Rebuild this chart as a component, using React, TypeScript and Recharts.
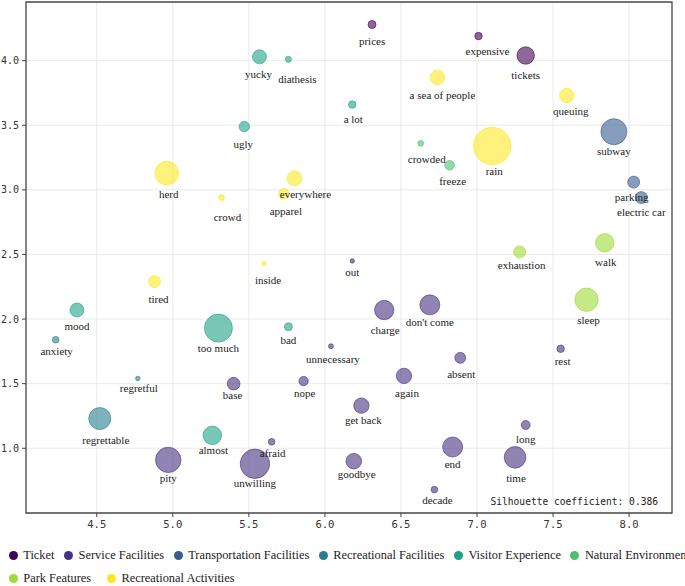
import { ScatterChart, Scatter, XAxis, YAxis, ZAxis, CartesianGrid, ReferenceArea } from 'recharts';

// ─── Data: [word, x, y, frequency] ─────────────────────────────────────────────
type Pt = [string, number, number, number];

const TICKET: Pt[] = [
  ['prices',    6.31, 4.28, 16],
  ['expensive', 7.01, 4.19, 14],
  ['tickets',   7.32, 4.04, 76],
];

const SERVICE: Pt[] = [
  ['out',         6.18, 2.45, 5],
  ['charge',      6.39, 2.07, 94],
  ["don't come",  6.69, 2.11, 100],
  ['unnecessary', 6.04, 1.79, 6],
  ['absent',      6.89, 1.70, 30],
  ['rest',        7.55, 1.77, 14],
  ['base',        5.40, 1.50, 40],
  ['nope',        5.86, 1.52, 22],
  ['again',       6.52, 1.56, 59],
  ['get back',    6.24, 1.33, 59],
  ['long',        7.32, 1.18, 20],
  ['afraid',      5.65, 1.05, 11],
  ['pity',        4.97, 0.91, 161],
  ['unwilling',   5.54, 0.88, 216],
  ['goodbye',     6.19, 0.90, 61],
  ['end',         6.84, 1.01, 100],
  ['time',        7.25, 0.93, 117],
  ['decade',      6.72, 0.68, 11],
];

const TRANSPORT: Pt[] = [
  ['subway',       7.90, 3.45, 169],
  ['parking',      8.03, 3.06, 36],
  ['electric car', 8.08, 2.94, 36],
];

const RECREATIONAL_FAC: Pt[] = [
  ['anxiety',     4.23, 1.84, 11],
  ['regretful',   4.77, 1.54, 5],
  ['regrettable', 4.52, 1.23, 121],
];

const VISITOR: Pt[] = [
  ['yucky',     5.57, 4.03, 49],
  ['diathesis', 5.76, 4.01, 9],
  ['a lot',     6.18, 3.66, 14],
  ['ugly',      5.47, 3.49, 27],
  ['mood',      4.37, 2.07, 49],
  ['too much',  5.30, 1.93, 196],
  ['bad',       5.76, 1.94, 16],
  ['almost',    5.26, 1.10, 86],
];

const NATURAL: Pt[] = [
  ['crowded', 6.63, 3.36, 8],
  ['freeze',  6.82, 3.19, 23],
];

const PARK: Pt[] = [
  ['exhaustion', 7.28, 2.52, 36],
  ['walk',       7.84, 2.59, 86],
  ['sleep',      7.72, 2.15, 137],
];

const ACTIVITIES: Pt[] = [
  ['herd',            4.96, 3.13, 140],
  ['crowd',           5.32, 2.94, 9],
  ['everywhere',      5.80, 3.09, 56],
  ['apparel',         5.73, 2.97, 28],
  ['a sea of people', 6.74, 3.87, 53],
  ['queuing',         7.59, 3.73, 52],
  ['rain',            7.10, 3.34, 350],
  ['tired',           4.88, 2.29, 36],
  ['inside',          5.60, 2.43, 5],
];

const CATEGORIES = [
  'Ticket', 'Service Facilities', 'Transportation Facilities', 'Recreational Facilities',
  'Visitor Experience', 'Natural Environment', 'Park Features', 'Recreational Activities',
];
const SERIES = [TICKET, SERVICE, TRANSPORT, RECREATIONAL_FAC, VISITOR, NATURAL, PARK, ACTIVITIES];

const X_TICKS = [4.5, 5.0, 5.5, 6.0, 6.5, 7.0, 7.5, 8.0];
const Y_TICKS = [1.0, 1.5, 2.0, 2.5, 3.0, 3.5, 4.0];
const SILHOUETTE = 0.386;

// ─── Styling ───────────────────────────────────────────────────────────────────
const COLORS = ['#440154', '#46327e', '#365c8d', '#277f8e', '#1fa187', '#4ac16d', '#a0da39', '#fde725'];
const X_DOMAIN: [number, number] = [4.035, 8.282];
const Y_DOMAIN: [number, number] = [0.499, 4.454];
const SERIF = "'Liberation Serif', 'Times New Roman', serif";
const MONO = "'DejaVu Sans Mono', monospace";

// label nudges [dx, dy] in px, mimicking the original text placement
const NUDGE: Record<string, [number, number]> = {
  prices: [0, 3], expensive: [9, 1], tickets: [0, 3], 'a sea of people': [5, 2], 'a lot': [1, 1],
  queuing: [4, 0], subway: [0, 1], crowded: [6, 2], freeze: [3, 1], rain: [2, 4], parking: [-2, 0],
  'electric car': [0, -1], yucky: [-1, 2], diathesis: [9, 6], ugly: [-1, 3], herd: [2, 3.5],
  crowd: [6, 6], everywhere: [11, 0], apparel: [2, 3], anxiety: [1, -2], tired: [4, 2],
  inside: [4, 3.5], 'too much': [0, 1], bad: [0, -1], unnecessary: [2, 0], regretful: [1, -4],
  base: [-1, -3.5], nope: [1, -2.4], regrettable: [6, 3.5], almost: [1, -2.3], afraid: [1, -2.4],
  out: [0, -2], charge: [1, 3], absent: [1, 1.6], rest: [2, -2], again: [3, 1], 'get back': [2, -1.6],
  time: [1, 3], goodbye: [3, -3], decade: [3, -3.4], sleep: [2, 2.4], exhaustion: [2, -2], walk: [1, 2.7],
};

const toRows = (pts: Pt[]) => pts.map(([word, x, y, freq]) => ({ word, x, y, freq }));

const WordLabel = (props: any) => {
  const { cx, cy, payload } = props;
  if (cx == null || cy == null || !payload) return null;
  const r = props.width ? props.width / 2 : Math.sqrt(payload.freq);
  const [dx, dy] = NUDGE[payload.word] ?? [0, 0];
  return (
    <text
      x={cx + dx}
      y={cy + 12 + 0.5 * r + dy}
      textAnchor="middle"
      dominantBaseline="central"
      fontSize={11}
      fontFamily={SERIF}
      fill="#222"
    >
      {payload.word}
    </text>
  );
};

function LegendRow({ items, gap, top }: { items: number[]; gap: number; top: number }) {
  return (
    <div style={{ position: 'absolute', left: 8.8, top, display: 'flex', alignItems: 'center', columnGap: gap, whiteSpace: 'nowrap' }}>
      {items.map(i => (
        <div key={i} style={{ display: 'flex', alignItems: 'center' }}>
          <span style={{ width: 9, height: 9, borderRadius: '50%', background: COLORS[i], marginRight: 5.5, display: 'inline-block' }} />
          <span style={{ fontFamily: SERIF, fontSize: 12.4, color: '#222', lineHeight: '14px' }}>{CATEGORIES[i]}</span>
        </div>
      ))}
    </div>
  );
}

export default function App() {
  const allRows = SERIES.flatMap(toRows);

  return (
    <div style={{ position: 'absolute', left: 0, top: 0, width: 685, height: 586, overflow: 'hidden', background: '#fff' }}>
      <ScatterChart width={685} height={540} margin={{ top: 2, right: 13, bottom: 0, left: 0 }}>
        <CartesianGrid stroke="#e4e4e4" strokeWidth={0.8} />
        <XAxis
          type="number" dataKey="x" domain={X_DOMAIN} ticks={X_TICKS} allowDataOverflow
          tickFormatter={(v: number) => v.toFixed(1)}
          height={27} tickSize={4} tickMargin={4}
          axisLine={false} tickLine={{ stroke: '#444' }}
          tick={{ fontSize: 10.5, fontFamily: MONO, fill: '#333' }}
        />
        <YAxis
          type="number" dataKey="y" domain={Y_DOMAIN} ticks={Y_TICKS} allowDataOverflow
          tickFormatter={(v: number) => v.toFixed(1)}
          width={26} tickSize={4} tickMargin={3}
          axisLine={false} tickLine={{ stroke: '#444' }}
          tick={{ fontSize: 10, fontFamily: MONO, fill: '#333' }}
        />
        <ZAxis type="number" dataKey="freq" domain={[0, 400]} range={[0, 400 * Math.PI]} />
        {SERIES.map((pts, i) => (
          <Scatter
            key={CATEGORIES[i]}
            name={CATEGORIES[i]}
            data={toRows(pts)}
            fill={COLORS[i]}
            fillOpacity={0.6}
            stroke={COLORS[i]}
            strokeOpacity={0.6}
            strokeWidth={1}
            isAnimationActive={false}
          />
        ))}
        <Scatter data={allRows} fill="none" shape={WordLabel} isAnimationActive={false} />
        <ReferenceArea
          x1={X_DOMAIN[0]} x2={X_DOMAIN[1]} y1={Y_DOMAIN[0]} y2={Y_DOMAIN[1]}
          fill="none" stroke="#4a4a4a" strokeWidth={1.3} ifOverflow="visible"
        />
      </ScatterChart>

      <div style={{ position: 'absolute', right: 27, top: 496, fontFamily: MONO, fontSize: 9.6, color: '#222', lineHeight: '11px', whiteSpace: 'pre' }}>
        {`Silhouette coefficient: ${SILHOUETTE}`}
      </div>

      <LegendRow items={[0, 1, 2, 3, 4, 5]} gap={9.5} top={548} />
      <LegendRow items={[6, 7]} gap={15.8} top={571} />
    </div>
  );
}
